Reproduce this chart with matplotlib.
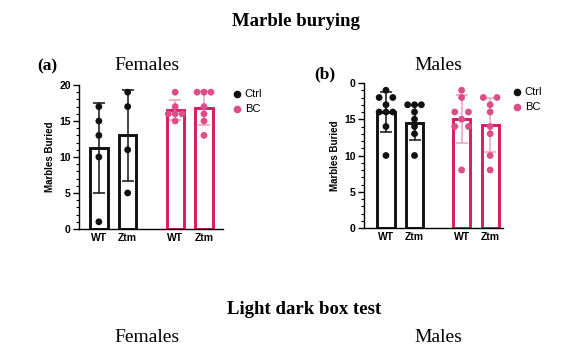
import numpy as np
from matplotlib import pyplot as plt
from matplotlib.lines import Line2D

# group labels
groups = ['WT', 'Ztm', 'WT', 'Ztm']
yticks = [0, 5, 10, 15, 20]

# Females: individual animals
fem_pts = [[17, 15, 13, 10, 1],
           [19, 17, 11, 5],
           [19, 17, 16, 16, 16, 15],
           [19, 19, 19, 17, 16, 15, 13]]
fem_mean = [11.2, 13.0, 16.5, 16.85]
fem_sd = [6.26, 6.32, 1.38, 2.34]

# Males
male_pts = [[19, 18, 18, 17, 16, 16, 16, 14, 10],
            [17, 17, 17, 16, 15, 14, 13, 10],
            [19, 18, 16, 16, 15, 14, 14, 8],
            [18, 18, 17, 16, 14, 13, 10, 8]]
male_mean = [16.0, 14.5, 15.0, 14.25]
male_sd = [2.8, 2.4, 3.3, 3.7]

BLACK = '#111111'
PINK = '#d81b63'
PINK_PT = '#dd4d89'
PINK_ERR = '#eaa2c4'

plt.rcParams['font.family'] = ['Liberation Sans', 'DejaVu Sans']
SERIF = ['Liberation Serif', 'DejaVu Serif']

fig = plt.figure(figsize=(5.84, 3.53), dpi=100)

xpos = np.array([0, 1, 2.65, 3.65])


def spread(vals, step=0.24):
    # place tied values side by side, like a column scatter
    xs = np.zeros(len(vals))
    vals = np.array(vals)
    for v in np.unique(vals):
        idx = np.where(vals == v)[0]
        n = len(idx)
        if n == 2:
            off = np.array([-1, 1]) * step
        else:
            off = (np.arange(n) - (n - 1) / 2) * step
        xs[idx] = off
    return xs


def panel(rect, pts, means, sds, xlim, top_label):
    ax = fig.add_axes(rect)
    for i in range(4):
        ctrl = i < 2
        edge = BLACK if ctrl else PINK
        ax.bar(xpos[i], means[i], width=0.6, color='white', edgecolor=edge,
               linewidth=2.1, zorder=2)
        ax.errorbar(xpos[i], means[i], yerr=sds[i], fmt='none',
                    ecolor=BLACK if ctrl else PINK_ERR, elinewidth=1.1,
                    capsize=4, capthick=1.1, zorder=3)
        ax.scatter(xpos[i] + spread(pts[i]), pts[i], s=24,
                   color=BLACK if ctrl else PINK_PT, edgecolor='none',
                   zorder=4, clip_on=False)
    ax.set_xlim(*xlim)
    ax.set_ylim(0, 20)
    ax.set_yticks(yticks)
    ax.set_yticklabels(['0', '5', '10', '15', top_label])
    ax.set_yticks(np.arange(0, 21, 1), minor=True)
    ax.set_xticks(xpos)
    ax.set_xticklabels(groups)
    for s in ['top', 'right']:
        ax.spines[s].set_visible(False)
    for s in ['left', 'bottom']:
        ax.spines[s].set_linewidth(1.0)
    ax.tick_params(axis='y', which='major', length=4, width=1.0,
                   labelsize=7.5, pad=2)
    ax.tick_params(axis='y', which='minor', length=2, width=0.8)
    ax.tick_params(axis='x', length=0, labelsize=7.5, pad=3)
    for lab in ax.get_xticklabels() + ax.get_yticklabels():
        lab.set_fontweight('bold')
    ax.set_ylabel('Marbles Buried', fontsize=7, fontweight='bold', labelpad=3)
    handles = [Line2D([], [], ls='none', marker='o', ms=4.5, color=BLACK),
               Line2D([], [], ls='none', marker='o', ms=4.5, color=PINK_PT,
                      markeredgecolor=PINK_PT)]
    ax.legend(handles, ['Ctrl', 'BC'], loc='upper left',
              bbox_to_anchor=(1.02, 1.0), frameon=False, fontsize=8,
              handletextpad=0.1, borderaxespad=0, labelspacing=0.45,
              handlelength=1.2)
    return ax


panel([79 / 584, 1 - 229 / 353, 144 / 584, 144 / 353],
      fem_pts, fem_mean, fem_sd, (-0.69, 4.31), '20')
panel([364 / 584, 1 - 228 / 353, 139 / 584, 145 / 353],
      male_pts, male_mean, male_sd, (-0.77, 4.1), '0')

fig.text(296 / 584, 1 - 21 / 353, 'Marble burying', ha='center', va='center',
         fontsize=13.5, fontweight='bold', family=SERIF)
fig.text(47 / 584, 1 - 66 / 353, '(a)', ha='center', va='center',
         fontsize=12.5, fontweight='bold', family=SERIF)
fig.text(147 / 584, 1 - 66 / 353, 'Females', ha='center', va='center',
         fontsize=14, family=SERIF)
fig.text(325 / 584, 1 - 74 / 353, '(b)', ha='center', va='center',
         fontsize=12.5, fontweight='bold', family=SERIF)
fig.text(438 / 584, 1 - 66 / 353, 'Males', ha='center', va='center',
         fontsize=14, family=SERIF)
fig.text(304 / 584, 1 - 310 / 353, 'Light dark box test', ha='center',
         va='center', fontsize=13.5, fontweight='bold', family=SERIF)
fig.text(147 / 584, 1 - 337 / 353, 'Females', ha='center', va='center',
         fontsize=14, family=SERIF)
fig.text(438 / 584, 1 - 337 / 353, 'Males', ha='center', va='center',
         fontsize=14, family=SERIF)

fig.savefig('out.png', dpi=100)
